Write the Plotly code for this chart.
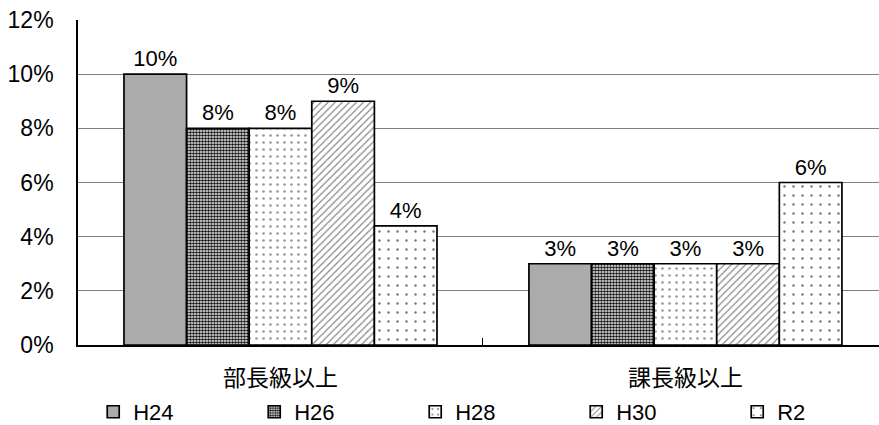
import plotly.graph_objects as go

categories = ["部長級以上", "課長級以上"]
series_names = ["H24", "H26", "H28", "H30", "R2"]
h24 = [0.10, 0.03]
h26 = [0.08, 0.03]
h28 = [0.08, 0.03]
h30 = [0.09, 0.03]
r2 = [0.044, 0.06]
series_values = [h24, h26, h28, h30, r2]

y_ticks = [0, 0.02, 0.04, 0.06, 0.08, 0.10, 0.12]

# fill style per series: (solid color, pattern shape, pattern fg, pattern size, solidity)
styles = [
    ("#ababab", "", None, None, None),
    ("white", ".", "#111111", 3, 0.6),
    ("white", ".", "#9a9a9a", 7, 0.12),
    ("white", "/", "#8a8a8a", 5, 0.25),
    ("white", ".", "#777777", 9, 0.06),
]

TEXT_FONT = "Liberation Sans, Arial, Noto Sans CJK JP, sans-serif"
CJK_FONT = "Noto Sans CJK JP, Liberation Sans, sans-serif"

fig = go.Figure()
for name, vals, (color, shape, fg, size, sol) in zip(series_names, series_values, styles):
    marker = dict(color=color, line=dict(color="black", width=1.7))
    if shape:
        marker["pattern"] = dict(shape=shape, fgcolor=fg, bgcolor="white",
                                 size=size, solidity=sol, fillmode="replace")
    fig.add_trace(go.Bar(
        name=name, x=categories, y=vals, marker=marker,
        texttemplate="%{y:.0%}", textposition="outside",
        textfont=dict(size=22, color="black", family=TEXT_FONT),
        cliponaxis=False,
    ))

fig.update_layout(
    width=879, height=425,
    margin=dict(l=78, r=0, t=20, b=80, autoexpand=False),
    paper_bgcolor="white", plot_bgcolor="white",
    barmode="group", bargap=0.227, bargroupgap=0,
    font=dict(family=TEXT_FONT, color="black", size=22),
    legend=dict(
        orientation="h", x=0.019, xanchor="left", y=-0.206, yanchor="middle",
        entrywidth=116, entrywidthmode="pixels",
        font=dict(size=22, family=TEXT_FONT), itemwidth=30,
        traceorder="normal",
    ),
    showlegend=True,
)

fig.update_xaxes(
    range=[-0.5, 1.478], showline=True, linecolor="black", linewidth=1.6,
    tickson="boundaries", ticks="inside", ticklen=7, tickcolor="black", tickwidth=1.2,
    tickfont=dict(family=CJK_FONT, size=23, color="black"),
    ticklabelstandoff=12, showgrid=False, fixedrange=True,
)
fig.update_yaxes(
    range=[0, 0.12], tickvals=y_ticks, tickformat=".0%",
    showline=True, linecolor="black", linewidth=1.6,
    showgrid=True, gridcolor="#7f7f7f", gridwidth=1.2,
    zeroline=False, ticks="", ticklabelstandoff=18,
    tickfont=dict(size=23, family=TEXT_FONT, color="black"),
)

fig.write_html("out.html")
